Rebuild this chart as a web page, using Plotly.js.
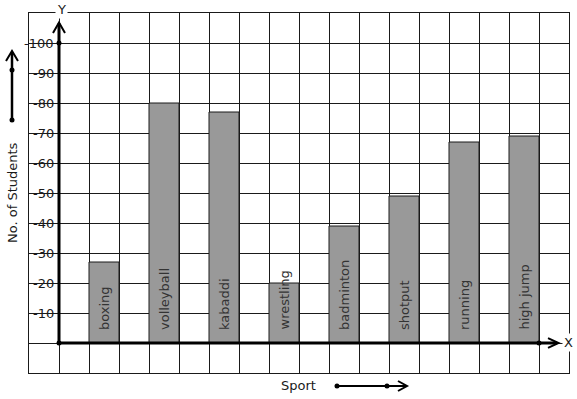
<!DOCTYPE html>
<html><head><meta charset="utf-8">
<script src="https://cdn.plot.ly/plotly-3.0.1.min.js"></script>
<style>html,body{margin:0;padding:0;background:#fff}#chart{width:577px;height:399px}</style>
</head><body><div id="chart"></div>
<script>
const sports = ["boxing","volleyball","kabaddi","wrestling","badminton","shotput","running","high jump"];
const students = [27, 80, 77, 20, 39, 49, 67, 69];
const yTickVals = [10,20,30,40,50,60,70,80,90,100];
const yTickText = ["-10","-20","-30","-40","-50","-60","-70","-80","-90","-100"];

const xPos = sports.map((s,i)=>1.5+2*i);
const FONT = "DejaVu Sans, sans-serif";
const ink = "#1a1a1a";

const trace = {
  type:"bar", x:xPos, y:students, width:1,
  marker:{color:"#999999", line:{color:ink, width:1}},
  hoverinfo:"none"
};

const px = v => (v-29)/540, py = v => (373-v)/360;

const shapes = [
  // axes
  {type:"line", xref:"x", yref:"y", x0:0, y0:0, x1:0, y1:106.5, line:{color:"#000", width:3}},
  {type:"line", xref:"x", yref:"y", x0:0, y0:0, x1:16.6, y1:0, line:{color:"#000", width:3}},
  {type:"path", xref:"x", yref:"y", path:"M -0.2,103.3 L 0,106.8 L 0.2,103.3", line:{color:"#000", width:2}},
  {type:"path", xref:"x", yref:"y", path:"M 16.3,1.6 L 16.65,0 L 16.3,-1.6", line:{color:"#000", width:2}},
  {type:"circle", xref:"x", yref:"y", xsizemode:"pixel", ysizemode:"pixel", xanchor:0, yanchor:0, x0:-2.5, x1:2.5, y0:-2.5, y1:2.5, fillcolor:"#000", line:{width:0}},
  {type:"circle", xref:"x", yref:"y", xsizemode:"pixel", ysizemode:"pixel", xanchor:0, yanchor:100, x0:-2.5, x1:2.5, y0:-2.5, y1:2.5, fillcolor:"#000", line:{width:0}},
  {type:"circle", xref:"x", yref:"y", xsizemode:"pixel", ysizemode:"pixel", xanchor:16, yanchor:0, x0:-2.5, x1:2.5, y0:-2.5, y1:2.5, fillcolor:"#000", line:{width:0}},
  // left arrow
  {type:"line", xref:"paper", yref:"paper", x0:px(12), y0:py(120), x1:px(12), y1:py(52), line:{color:"#000", width:2.5}},
  {type:"path", xref:"paper", yref:"paper", path:`M ${px(6)},${py(61)} L ${px(12)},${py(51)} L ${px(18)},${py(61)}`, line:{color:"#000", width:2}},
  {type:"circle", xref:"paper", yref:"paper", x0:px(9.5), x1:px(14.5), y0:py(117.5), y1:py(122.5), fillcolor:"#000", line:{width:0}},
  {type:"circle", xref:"paper", yref:"paper", x0:px(9.5), x1:px(14.5), y0:py(67.5), y1:py(72.5), fillcolor:"#000", line:{width:0}},
  // bottom arrow
  {type:"line", xref:"paper", yref:"paper", x0:px(337), y0:py(386), x1:px(406), y1:py(386), line:{color:"#000", width:2}},
  {type:"path", xref:"paper", yref:"paper", path:`M ${px(398)},${py(381)} L ${px(407)},${py(386)} L ${px(398)},${py(391)}`, line:{color:"#000", width:2}},
  {type:"circle", xref:"paper", yref:"paper", x0:px(334.5), x1:px(339.5), y0:py(383.5), y1:py(388.5), fillcolor:"#000", line:{width:0}},
  {type:"circle", xref:"paper", yref:"paper", x0:px(384.5), x1:px(389.5), y0:py(383.5), y1:py(388.5), fillcolor:"#000", line:{width:0}}
];

const annotations = [];
yTickVals.forEach((v,i)=>annotations.push({xref:"paper", yref:"y", x:px(56), y:v, text:yTickText[i], showarrow:false, xanchor:"right", yanchor:"middle", font:{family:FONT, size:13, color:ink}}));
sports.forEach((s,i)=>annotations.push({xref:"x", yref:"y", x:xPos[i], y:0, yshift:11, text:s, textangle:-90, showarrow:false, xanchor:"center", yanchor:"bottom", font:{family:FONT, size:13, color:"#333"}}));
annotations.push({xref:"paper", yref:"paper", x:px(61), y:py(9), text:"Y", showarrow:false, bgcolor:"#fff", xanchor:"center", yanchor:"middle", font:{family:FONT, size:13, color:ink}});
annotations.push({xref:"paper", yref:"paper", x:px(568), y:py(342), text:"X", showarrow:false, bgcolor:"#fff", xanchor:"center", yanchor:"middle", font:{family:FONT, size:13, color:ink}});
annotations.push({xref:"paper", yref:"paper", x:px(12), y:0.5, text:"No. of Students", textangle:-90, showarrow:false, xanchor:"center", yanchor:"middle", font:{family:FONT, size:13, color:ink}});
annotations.push({xref:"paper", yref:"paper", x:px(298), y:py(385), text:"Sport", showarrow:false, xanchor:"center", yanchor:"middle", font:{family:FONT, size:13, color:ink}});

const layout = {
  width:577, height:399,
  margin:{l:29, r:8, t:13, b:26},
  paper_bgcolor:"#fff", plot_bgcolor:"#fff",
  showlegend:false,
  xaxis:{range:[-1,17], dtick:1, tick0:0, showgrid:true, gridcolor:ink, gridwidth:1, zeroline:false, showticklabels:false, ticks:"", showline:true, mirror:true, linecolor:ink, linewidth:1, fixedrange:true},
  yaxis:{range:[-10,110], dtick:10, tick0:0, showgrid:true, gridcolor:ink, gridwidth:1, zeroline:false, showticklabels:false, ticks:"", showline:true, mirror:true, linecolor:ink, linewidth:1, fixedrange:true},
  shapes:shapes,
  annotations:annotations
};
Plotly.newPlot("chart",[trace],layout,{staticPlot:true});
</script></body></html>
